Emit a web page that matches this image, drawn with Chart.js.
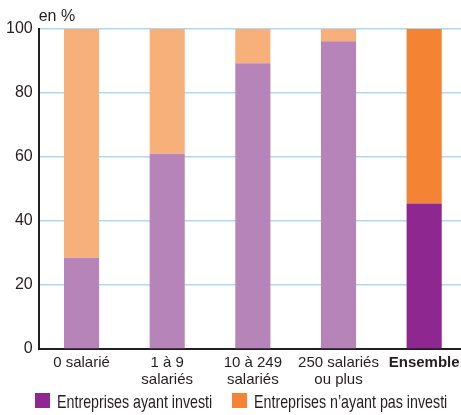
<!DOCTYPE html>
<html>
<head>
<meta charset="utf-8">
<script src="https://cdn.jsdelivr.net/npm/chart.js@4/dist/chart.umd.min.js"></script>
<style>
  html, body { margin: 0; padding: 0; background: #fff; overflow: hidden; }
  #wrap { position: relative; width: 467px; height: 415px; }
  #legend .key { position: absolute; top: 393px; width: 15px; height: 15px; }
  #legend .txt {
    position: absolute; top: 392px; white-space: nowrap;
    font: 19px/19px "Liberation Sans", Arial, sans-serif; color: #231f20;
    transform: scaleX(0.75); transform-origin: 0 0;
  }
</style>
</head>
<body>
<div id="wrap">
  <canvas id="chart"></canvas>
  <div id="legend"></div>
</div>
<script>
// Data
const categories = [['0 salarié'], ['1 à 9', 'salariés'], ['10 à 249', 'salariés'], ['250 salariés', 'ou plus'], ['Ensemble']];
const seriesNames = ['Entreprises ayant investi', 'Entreprises n\u2019ayant pas investi'];
const invested = [28.5, 61, 89.3, 96.2, 45.5];
const notInvested = [71.5, 39, 10.7, 3.8, 54.5];
const yTicks = [0, 20, 40, 60, 80, 100];

// Colours: lighter for size classes, full for "Ensemble"
const purpleLight = '#b784b9', purpleDark = '#8e278f';
const orangeLight = '#f8b07a', orangeDark = '#f48434';
const fontFamily = '"Liberation Sans", Arial, sans-serif';

const unitLabel = {
  id: 'unitLabel',
  afterDraw(chart) {
    const ctx = chart.ctx;
    ctx.save();
    ctx.font = '16px ' + fontFamily;
    ctx.fillStyle = '#231f20';
    ctx.textBaseline = 'alphabetic';
    ctx.fillText('en %', chart.chartArea.left, 21);
    ctx.restore();
  }
};

const chart = new Chart(document.getElementById('chart'), {
  type: 'bar',
  data: {
    labels: categories,
    datasets: [
      {
        label: seriesNames[0],
        data: invested,
        backgroundColor: invested.map((v, i) => i === 4 ? purpleDark : purpleLight),
        borderWidth: 0
      },
      {
        label: seriesNames[1],
        data: notInvested,
        backgroundColor: notInvested.map((v, i) => i === 4 ? orangeDark : orangeLight),
        borderWidth: 0
      }
    ]
  },
  options: {
    responsive: true,
    maintainAspectRatio: false,
    animation: false,
    barPercentage: 0.41,
    categoryPercentage: 1,
    layout: { padding: { top: 29, left: 0, right: 0, bottom: 22 } },
    scales: {
      x: {
        stacked: true,
        grid: { display: false, drawTicks: false },
        border: { color: '#231f20', width: 2 },
        ticks: {
          color: '#231f20',
          padding: 5,
          maxRotation: 0,
          autoSkip: false,
          font: ctx => ({ family: fontFamily, size: 15, lineHeight: '17px', weight: ctx.index === 4 ? 'bold' : 'normal' })
        }
      },
      y: {
        stacked: true,
        min: 0,
        max: 100,
        afterBuildTicks: axis => { axis.ticks = yTicks.map(v => ({ value: v })); },
        grid: { color: '#b0d8f0', lineWidth: 1.5, drawTicks: false },
        border: { color: '#231f20', width: 2 },
        ticks: {
          color: '#231f20',
          padding: 6,
          font: { family: fontFamily, size: 16 }
        }
      }
    },
    plugins: {
      legend: { display: false },
      tooltip: { enabled: false }
    }
  },
  plugins: [unitLabel]
});

// Legend as HTML, colours taken from the "Ensemble" bars
const legendPos = [{ key: 35, txt: 57 }, { key: 232, txt: 254 }];
const legend = document.getElementById('legend');
chart.data.datasets.forEach((ds, i) => {
  const key = document.createElement('div');
  key.className = 'key';
  key.style.left = legendPos[i].key + 'px';
  key.style.background = ds.backgroundColor[4];
  const txt = document.createElement('div');
  txt.className = 'txt';
  txt.style.left = legendPos[i].txt + 'px';
  txt.textContent = ds.label;
  legend.appendChild(key);
  legend.appendChild(txt);
});
</script>
</body>
</html>
